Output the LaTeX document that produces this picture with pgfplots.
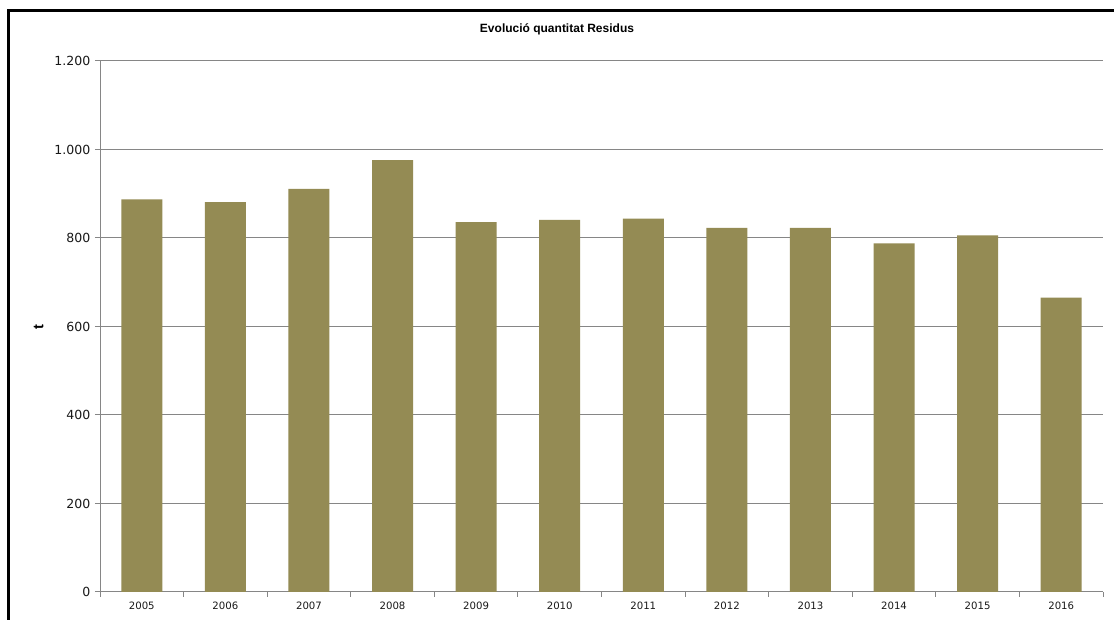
\documentclass[border=0pt]{standalone}
\usepackage{fontspec}
\setmainfont{DejaVu Sans}
\newfontfamily\titlefont{Liberation Sans}
\usepackage{pgfplots}
\pgfplotsset{compat=1.18}
\definecolor{barcol}{RGB}{148,139,84}
\definecolor{gridcol}{RGB}{134,134,134}
\begin{document}
\begin{tikzpicture}
\useasboundingbox[fill=white] (0,0) rectangle (835.5pt,465pt);
\begin{axis}[
  at={(75pt,21pt)}, anchor=south west,
  scale only axis, width=752.25pt, height=398.25pt,
  xmin=-0.5, xmax=11.5, ymin=0, ymax=1200,
  axis x line*=bottom, axis y line*=left,
  axis line style={gridcol, line width=0.75pt},
  xtick={0,1,2,3,4,5,6,7,8,9,10,11},
  xticklabels={2005,2006,2007,2008,2009,2010,2011,2012,2013,2014,2015,2016},
  minor xtick={-0.5,0.5,1.5,2.5,3.5,4.5,5.5,6.5,7.5,8.5,9.5,10.5,11.5},
  major x tick style={draw=none},
  minor x tick style={gridcol, line width=0.75pt},
  ytick={0,200,400,600,800,1000,1200},
  y tick style={gridcol, line width=0.75pt},
  tick align=outside, major tick length=3.75pt, minor tick length=3.75pt,
  ymajorgrids, grid style={gridcol, line width=0.75pt},
  /pgf/number format/assume math mode=true,
  /pgf/number format/1000 sep={.},
  yticklabel style={font=\fontsize{9.4pt}{11pt}\selectfont, color=black!90},
  xticklabel style={font=\fontsize{7.6pt}{9pt}\selectfont, color=black!90},
  clip=false,
]
\addplot[ybar, bar width=30.75pt, fill=barcol, draw=none] coordinates {
  (0,887) (1,881) (2,911) (3,976) (4,836) (5,841)
  (6,844) (7,823) (8,823) (9,788) (10,806) (11,665)
};
\end{axis}
\node[font=\titlefont\bfseries\fontsize{9pt}{10pt}\selectfont, anchor=base] at (417.75pt,440.25pt) {Evolució quantitat Residus};
\node[font=\titlefont\bfseries\fontsize{11pt}{12pt}\selectfont, rotate=90] at (29pt,219.75pt) {t};
\draw[line width=2.25pt, black] (6pt,0pt) -- (6pt,456.75pt) -- (835.5pt,456.75pt);
\end{tikzpicture}
\end{document}
